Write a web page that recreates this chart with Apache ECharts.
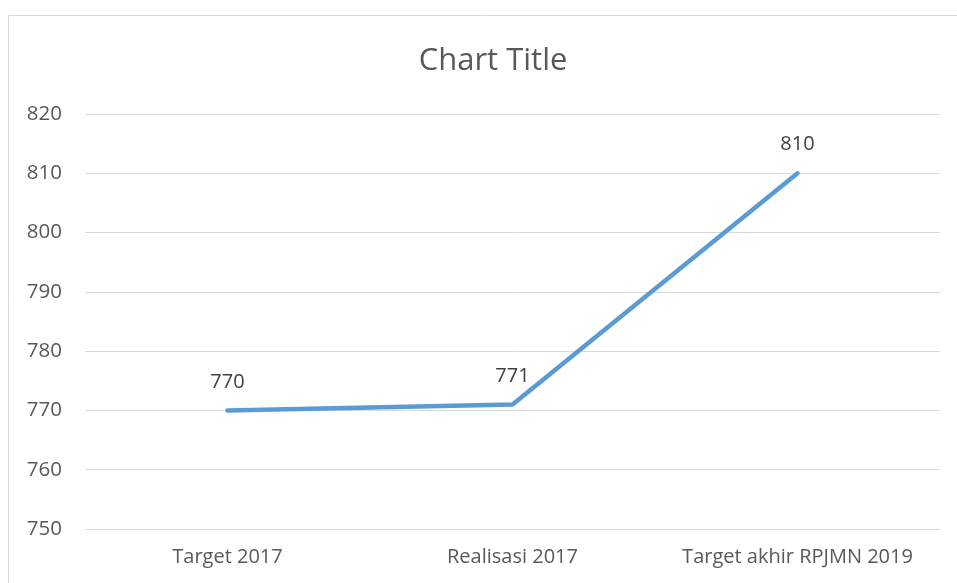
<!DOCTYPE html>
<html><head><meta charset="utf-8">
<script src="https://cdn.jsdelivr.net/npm/echarts@6/dist/echarts.min.js"></script>
<style>html,body{margin:0;padding:0;background:#fff}#c{width:957px;height:583px}</style>
</head><body><div id="c"></div>
<script>
const categories = ['Target 2017', 'Realisasi 2017', 'Target akhir RPJMN 2019'];
const values = [770, 771, 810];
const yTicks = [750, 760, 770, 780, 790, 800, 810, 820];
const chart = echarts.init(document.getElementById('c'));
const font = '"Open Sans", "Noto Sans", sans-serif';
chart.setOption({
  animation: false,
  graphic: [{type:'rect', shape:{x:8.5,y:15.5,width:1200,height:1200}, style:{fill:'none', stroke:'#d9d9d9', lineWidth:1}, silent:true}],
  title: {text:'Chart Title', left:488, top:41, textAlign:'center', textStyle:{fontFamily:font, fontSize:31, fontWeight:'normal', color:'#595959'}},
  grid: {left:85, right:17, top:114, bottom:54},
  xAxis: {type:'category', data:categories, boundaryGap:true,
    axisLine:{show:false}, axisTick:{show:false},
    axisLabel:{interval:0, hideOverlap:false, fontFamily:font, fontSize:20, color:'#595959', margin:18}},
  yAxis: {type:'value', min:yTicks[0], max:yTicks[yTicks.length-1], interval:10,
    axisLine:{show:false}, axisTick:{show:false},
    axisLabel:{fontFamily:font, fontSize:20.5, color:'#595959', margin:23},
    splitLine:{lineStyle:{color:'#d9d9d9', width:1}}},
  series: [{type:'line', data:values, symbol:'circle', symbolSize:1, showSymbol:true,
    itemStyle:{color:'#5b9bd5', opacity:0},
    lineStyle:{color:'#5b9bd5', width:4.5, cap:'round', join:'round'},
    label:{show:true, position:'top', distance:18, fontFamily:font, fontSize:20, color:'#404040', opacity:1}}]
});
</script></body></html>
